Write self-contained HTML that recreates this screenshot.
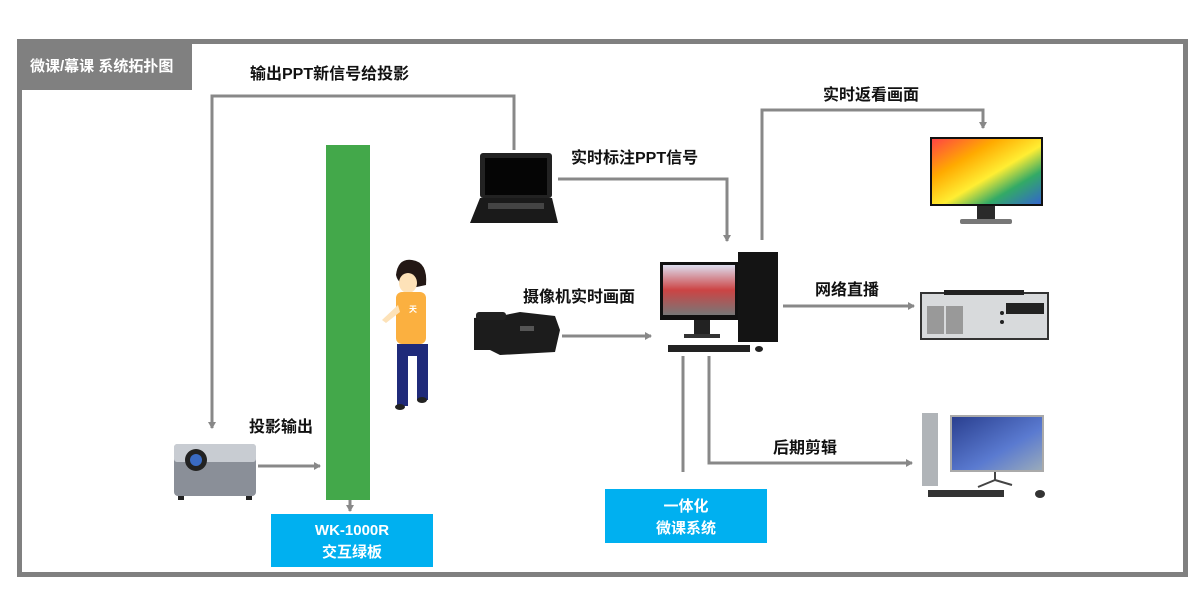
<!DOCTYPE html>
<html><head><meta charset="utf-8"><style>
html,body{margin:0;padding:0;background:#fff;width:1200px;height:606px;overflow:hidden}
text{font-family:"Liberation Sans","Noto Sans CJK SC",sans-serif;font-weight:bold}
</style></head><body>
<svg width="1200" height="606" viewBox="0 0 1200 606" xmlns="http://www.w3.org/2000/svg">
<defs>
<marker id="ar" markerWidth="8" markerHeight="8" refX="6" refY="4" orient="auto" markerUnits="userSpaceOnUse"><path d="M0,0 L7,4 L0,8 z" fill="#888"/></marker>
<linearGradient id="scr1" x1="0" y1="0" x2="1" y2="1"><stop offset="0" stop-color="#f44"/><stop offset=".3" stop-color="#fa0"/><stop offset=".55" stop-color="#fe3"/><stop offset=".75" stop-color="#3a6"/><stop offset="1" stop-color="#36c"/></linearGradient>
<linearGradient id="scr2" x1="0" y1="0" x2="1" y2="1"><stop offset="0" stop-color="#2a3f8f"/><stop offset=".6" stop-color="#5a7ad0"/><stop offset="1" stop-color="#9ab"/></linearGradient>
<linearGradient id="scr3" x1="0" y1="0" x2="0" y2="1"><stop offset="0" stop-color="#dde"/><stop offset=".5" stop-color="#c44"/><stop offset="1" stop-color="#777"/></linearGradient>
</defs>
<rect x="19.5" y="41.5" width="1166" height="533" fill="none" stroke="#808080" stroke-width="5"/>
<rect x="17" y="39" width="175" height="51" fill="#808080"/>
<text x="30" y="71" font-size="15" fill="#fff">微课/幕课 系统拓扑图</text>

<g fill="none" stroke="#888" stroke-width="3">
<polyline points="514,150 514,96 212,96 212,428" marker-end="url(#ar)"/>
<line x1="258" y1="466" x2="320" y2="466" marker-end="url(#ar)"/>
<line x1="350" y1="500" x2="350" y2="511" marker-end="url(#ar)"/>
<polyline points="558,179 727,179 727,241" marker-end="url(#ar)"/>
<line x1="562" y1="336" x2="651" y2="336" marker-end="url(#ar)"/>
<polyline points="762,240 762,110 983,110 983,128" marker-end="url(#ar)"/>
<line x1="783" y1="306" x2="914" y2="306" marker-end="url(#ar)"/>
<line x1="683" y1="356" x2="683" y2="472"/>
<polyline points="709,356 709,463 912,463" marker-end="url(#ar)"/>
</g>

<text x="250" y="79" font-size="16" fill="#111">输出PPT新信号给投影</text>
<text x="571" y="163" font-size="16" fill="#111">实时标注PPT信号</text>
<text x="523" y="302" font-size="16" fill="#111">摄像机实时画面</text>
<text x="823" y="100" font-size="16" fill="#111">实时返看画面</text>
<text x="815" y="295" font-size="16" fill="#111">网络直播</text>
<text x="773" y="453" font-size="16" fill="#111">后期剪辑</text>
<text x="249" y="432" font-size="16" fill="#111">投影输出</text>

<!-- green board -->
<rect x="326" y="145" width="44" height="355" fill="#43a84a"/>
<rect x="271" y="514" width="162" height="53" fill="#00b0f0"/>
<text x="352" y="535" font-size="15" fill="#fff" text-anchor="middle">WK-1000R</text>
<text x="352" y="557" font-size="15" fill="#fff" text-anchor="middle">交互绿板</text>
<rect x="605" y="489" width="162" height="54" fill="#00b0f0"/>
<text x="686" y="511" font-size="15" fill="#fff" text-anchor="middle">一体化</text>
<text x="686" y="533" font-size="15" fill="#fff" text-anchor="middle">微课系统</text>

<!-- projector -->
<rect x="174" y="444" width="82" height="52" rx="4" fill="#8a8f98"/>
<rect x="174" y="444" width="82" height="18" rx="3" fill="#c8ccd2"/>
<circle cx="196" cy="460" r="11" fill="#222"/><circle cx="196" cy="460" r="6" fill="#3a6bc4"/>
<rect x="178" y="496" width="6" height="4" fill="#222"/><rect x="246" y="496" width="6" height="4" fill="#222"/>

<!-- person -->
<path d="M396,275 Q398,258 412,260 Q428,262 426,285 L412,288 Q398,285 396,275z" fill="#231815"/>
<ellipse cx="408" cy="283" rx="9" ry="10" fill="#fde2b8"/>
<rect x="396" y="292" width="30" height="52" rx="6" fill="#fbb040"/>
<path d="M398,305 L382,320 L386,323 L400,312z" fill="#fde2b8"/>
<text x="413" y="312" font-size="8" fill="#fff" text-anchor="middle">天</text>
<rect x="397" y="344" width="31" height="12" fill="#1f2a7a"/>
<rect x="397" y="350" width="11" height="56" fill="#1f2a7a"/><rect x="417" y="350" width="11" height="50" fill="#1f2a7a"/>
<ellipse cx="400" cy="407" rx="5" ry="3" fill="#222"/><ellipse cx="422" cy="400" rx="5" ry="3" fill="#222"/>

<!-- laptop -->
<rect x="480" y="153" width="72" height="45" rx="3" fill="#222"/>
<rect x="485" y="158" width="62" height="37" fill="#050505"/>
<path d="M480,198 L552,198 L558,223 L470,223z" fill="#1a1a1a"/>
<rect x="488" y="203" width="56" height="6" fill="#444"/>

<!-- camera -->
<path d="M474,318 L505,315 L520,312 L555,316 L560,330 L555,352 L500,355 L490,350 L474,350z" fill="#1c1c1c"/>
<rect x="476" y="312" width="30" height="8" rx="3" fill="#222"/>
<rect x="520" y="326" width="14" height="5" fill="#555"/>

<!-- computer -->
<rect x="738" y="252" width="40" height="90" fill="#141414"/>
<rect x="660" y="262" width="78" height="58" fill="#111"/>
<rect x="663" y="265" width="72" height="50" fill="url(#scr3)"/>
<rect x="694" y="320" width="16" height="16" fill="#222"/>
<rect x="684" y="334" width="36" height="4" fill="#333"/>
<rect x="668" y="345" width="82" height="7" fill="#222"/>
<ellipse cx="759" cy="349" rx="4" ry="3" fill="#222"/>

<!-- monitor -->
<rect x="930" y="137" width="113" height="69" fill="#111"/>
<rect x="932" y="139" width="109" height="65" fill="url(#scr1)"/>
<rect x="977" y="206" width="18" height="14" fill="#2a2a2a"/>
<rect x="960" y="219" width="52" height="5" rx="2" fill="#777"/>

<!-- server -->
<rect x="921" y="293" width="127" height="46" fill="#d8dadc" stroke="#333" stroke-width="2"/>
<rect x="944" y="290" width="80" height="5" fill="#222"/>
<rect x="927" y="306" width="17" height="28" fill="#999"/><rect x="946" y="306" width="17" height="28" fill="#999"/>
<rect x="1006" y="303" width="38" height="11" fill="#222"/>
<circle cx="1002" cy="313" r="2" fill="#222"/><circle cx="1002" cy="322" r="2" fill="#222"/>

<!-- pc -->
<rect x="922" y="413" width="16" height="73" fill="#b0b4b8"/>
<rect x="950" y="415" width="94" height="57" fill="#aaa"/>
<rect x="952" y="417" width="90" height="53" fill="url(#scr2)"/>
<path d="M995,472 L995,480 L978,487 M995,480 L1012,485" stroke="#444" stroke-width="2" fill="none"/>
<rect x="928" y="490" width="76" height="7" fill="#333"/>
<ellipse cx="1040" cy="494" rx="5" ry="4" fill="#333"/>
</svg>
</body></html>
